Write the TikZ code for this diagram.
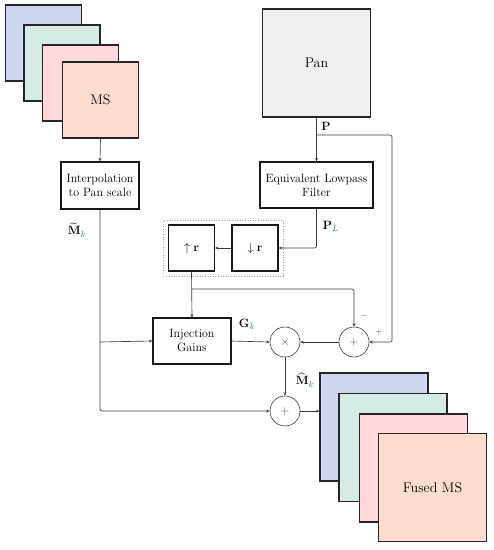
\documentclass[tikz,border=0pt]{standalone}
\usepackage{amsmath,amssymb}
\usetikzlibrary{arrows.meta,fit}
\definecolor{cblue}{RGB}{206,213,238}
\definecolor{cgreen}{RGB}{212,236,228}
\definecolor{cpink}{RGB}{255,217,221}
\definecolor{corange}{RGB}{255,221,206}
\definecolor{cgray}{RGB}{240,240,240}
\definecolor{csub}{RGB}{45,110,170}
\definecolor{cline}{RGB}{60,60,60}
\newcommand{\sk}[1]{{\color{csub}#1}}
\tikzset{
  sq/.style={draw=black!85, line width=1.1pt, minimum width=#1, minimum height=#1, inner sep=0pt, font=\fontsize{14}{16}\selectfont},
  blk/.style={draw=black!90, line width=1.1pt, align=center, inner sep=0pt},
  opc/.style={circle, draw=cline, line width=0.6pt, minimum size=30pt, inner sep=0pt, text=black!70},
  con/.style={draw=cline, line width=0.65pt, -{Stealth[length=3.5pt,width=3pt]}},
  lbl/.style={inner sep=0pt, font=\fontsize{13}{15}\selectfont},
}
\begin{document}
\begin{tikzpicture}[x=1pt,y=-1pt, font=\fontsize{12}{15}\selectfont]
\useasboundingbox (0,0) rectangle (494,550);
% MS stack
\node[sq=76pt, fill=cblue] (ms1) at (43.5,43) {};
\node[sq=76pt, fill=cgreen] (ms2) at (62,63) {};
\node[sq=76pt, fill=cpink] (ms3) at (80.5,83) {};
\node[sq=76pt, fill=corange] (ms4) at (100.5,100) {MS};
% Pan
\node[sq=108pt, fill=cgray] (pan) at (316.5,63) {Pan};
% blocks
\node[blk, minimum width=78pt, minimum height=47pt] (interp) at (100,185.5) {Interpolation\\[-1pt]to Pan scale};
\node[blk, minimum width=113pt, minimum height=46pt] (elf) at (316.5,185) {Equivalent Lowpass\\[-1pt]Filter};
\node[blk, minimum width=46pt, minimum height=46pt] (down) at (255,248) {$\downarrow\mathbf{r}$};
\node[blk, minimum width=46pt, minimum height=46pt] (up) at (191.5,248) {$\uparrow\mathbf{r}$};
\node[fit=(up)(down), inner sep=4.5pt, draw=black!35, dotted, line width=0.6pt] (grp) {};
\node[blk, minimum width=78pt, minimum height=46pt] (ig) at (192,341) {Injection\\[-1pt]Gains};
\node[opc] (times) at (285,342) {$\times$};
\node[opc] (plus) at (354,342) {$+$};
\node[opc] (plus2) at (285,411) {$+$};
% Fused stack
\node[sq=108pt, fill=cblue] (f1) at (374,427) {};
\node[sq=108pt, fill=cgreen] (f2) at (393,447.5) {};
\node[sq=108pt, fill=cpink] (f3) at (413.5,468) {};
\node[sq=108pt, fill=corange] (f4) at (432.5,487.5) {Fused MS};
% coordinates
\coordinate (pbr) at (317,135);
\coordinate (pr) at (392,135);
\coordinate (ubr) at (191.5,289);
\coordinate (lbr) at (100,342);
% connectors
\draw[con] (ms4.south) -- (interp.north);
\draw[con] (pan.south) -- (elf.north);
\draw[con, rounded corners=2pt] (pbr) -- (pr) |- (plus.east);
\draw[con, rounded corners=2pt] (elf.south) |- (down.east);
\draw[con] (down.west) -- (up.east);
\draw[con] (up.south) -- (ig.north);
\draw[con, rounded corners=2pt] (ubr) -| (plus.north);
\draw[con] (plus.west) -- (times.east);
\draw[con] (ig.east) -- (times.west);
\draw[con] (times.south) -- (plus2.north);
\draw[con, rounded corners=2pt] (interp.south) |- (plus2.west);
\draw[con] (lbr) -- (ig.west);
\draw[con] (plus2.east) -- (plus2.east -| f1.west);
% labels
\node[lbl] (lp) at (326,126) {$\mathbf{P}$};
\node[lbl] (lpl) at (331,226) {$\mathbf{P}_{\sk{L}}$};
\node[lbl] (lg) at (247,324) {$\mathbf{G}_{\sk{k}}$};
\node[lbl] (lmt) at (77,230) {$\widetilde{\mathbf{M}}_{\sk{k}}$};
\node[lbl] (lmh) at (305,380) {$\widehat{\mathbf{M}}_{\sk{k}}$};
\node[inner sep=0pt, text=black!70, font=\small] (lminus) at (364,316) {$-$};
\node[inner sep=0pt, text=black!70, font=\small] (lplus) at (379,332) {$+$};
\end{tikzpicture}
\end{document}
